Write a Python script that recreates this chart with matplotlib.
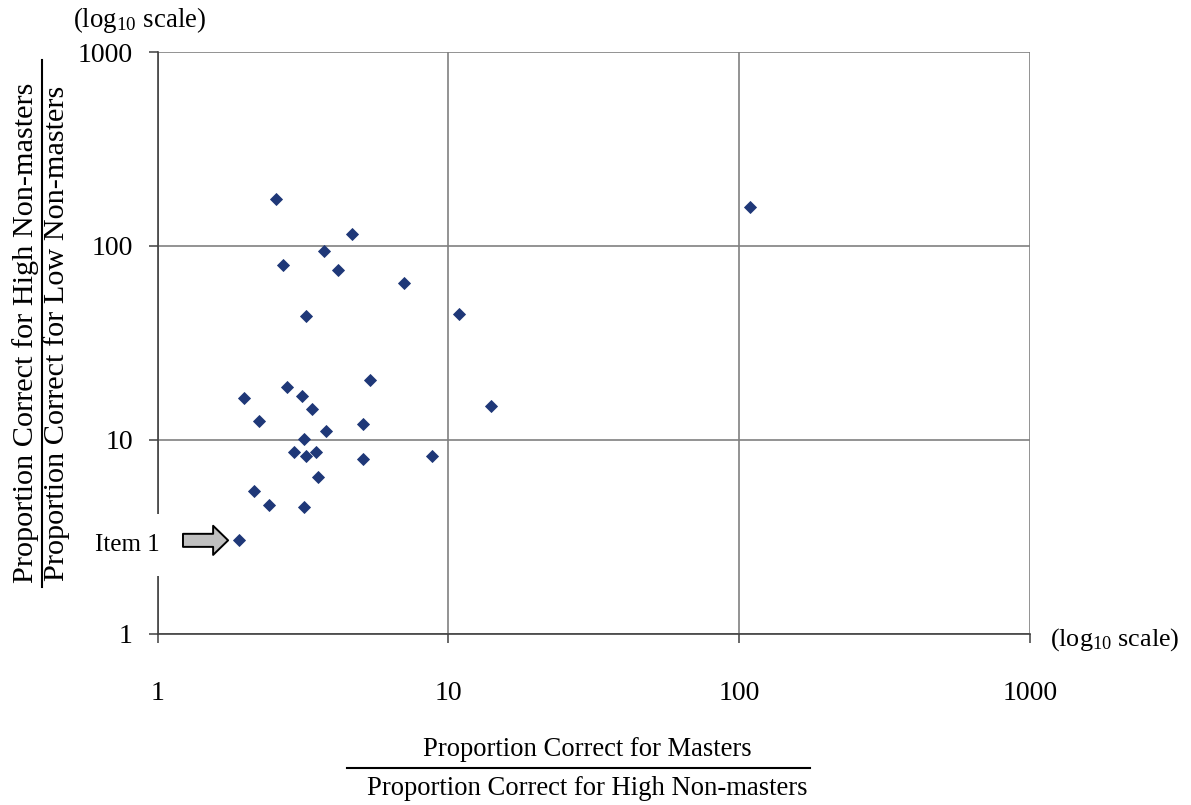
import matplotlib
matplotlib.use('Agg')
from matplotlib import pyplot as plt
from matplotlib.lines import Line2D
import matplotlib.ticker as ticker

plt.rcParams['font.family'] = ['Liberation Serif', 'DejaVu Serif']
plt.rcParams['mathtext.fontset'] = 'custom'
plt.rcParams['mathtext.rm'] = 'Liberation Serif'
plt.rcParams['mathtext.it'] = 'Liberation Serif:italic'

# masters / high non-masters  vs  high non-masters / low non-masters
ratio_masters_high = [2.55, 4.67, 3.75, 2.71, 4.19, 7.04, 3.25, 10.9, 109,
                      5.38, 2.78, 1.99, 3.14, 3.41, 14.0, 2.24, 5.09, 3.80,
                      3.18, 2.95, 3.25, 3.50, 5.09, 8.76, 3.55, 2.14, 2.41,
                      3.18, 1.91]
ratio_high_low = [175.5, 115.8, 93.9, 79.3, 74.7, 64.5, 43.4, 44.3, 159,
                  20.3, 18.8, 16.5, 16.9, 14.5, 14.9, 12.5, 12.0, 11.1,
                  10.1, 8.64, 8.24, 8.64, 7.92, 8.24, 6.42, 5.44, 4.59,
                  4.51, 3.03]
item1 = len(ratio_masters_high) - 1   # the flagged item is the last one

tick_values = [1, 10, 100, 1000]
tick_labels = ['1', '10', '100', '1000']

W, H = 1191, 805
fig = plt.figure(figsize=(W / 100, H / 100), dpi=100)
ax = fig.add_axes([157.5 / W, 1 - 633.7 / H, (1030 - 157.5) / W, (633.7 - 52) / H])

ax.plot(ratio_masters_high, ratio_high_low, linestyle='none', marker='D',
        markersize=6.4, color='#1f3878', markeredgewidth=0.6, zorder=5,
        clip_on=False)

ax.set_xscale('log')
ax.set_yscale('log')
ax.set_xlim(1, 1000)
ax.set_ylim(1, 1000)
ax.xaxis.set_major_locator(ticker.FixedLocator(tick_values))
ax.yaxis.set_major_locator(ticker.FixedLocator(tick_values))
ax.xaxis.set_minor_locator(ticker.NullLocator())
ax.yaxis.set_minor_locator(ticker.NullLocator())
ax.set_xticklabels(tick_labels)
ax.set_yticklabels(tick_labels)
ax.tick_params(axis='both', which='major', direction='out', length=6.8,
               width=1.1, color='#404040', labelsize=20)
ax.tick_params(axis='x', pad=27)
ax.tick_params(axis='y', pad=11)

ax.grid(True, color='#808080', linewidth=1.2)
ax.set_axisbelow(True)
for side in ['top', 'right']:
    ax.spines[side].set_visible(False)
for side in ['left', 'bottom']:
    ax.spines[side].set_color('#404040')
    ax.spines[side].set_linewidth(1.2)

# arrow and label for item 1
ix, iy = ratio_masters_high[item1], ratio_high_low[item1]
ax.annotate('', xy=(ix, iy), xytext=(-40.5, 0), textcoords='offset points',
            arrowprops=dict(arrowstyle='simple,head_length=1.08,head_width=2.1,tail_width=0.94',
                            mutation_scale=10, fc='#c0c0c0', ec='black', lw=1.4,
                            shrinkA=0, shrinkB=8), zorder=6)
ax.annotate('Item 1', xy=(ix, iy), xytext=(-57, -3.5), textcoords='offset points',
            ha='right', va='center', fontsize=18, zorder=7, annotation_clip=False,
            bbox=dict(boxstyle='square,pad=0.8', fc='white', ec='none'))

# axis titles written as fractions
fig.text(140 / W, 1 - 20 / H, r'(log$_{10}$ scale)', ha='center', va='center', fontsize=19.4)
fig.text(1050 / W, 1 - 640 / H, r'(log$_{10}$ scale)', ha='left', va='center', fontsize=18.8)

fig.text(587 / W, 1 - 749 / H, 'Proportion Correct for Masters',
         ha='center', va='center', fontsize=19.2)
fig.text(587 / W, 1 - 788 / H, 'Proportion Correct for High Non-masters',
         ha='center', va='center', fontsize=19.2)
fig.add_artist(Line2D([347 / W, 810 / W], [1 - 767.7 / H, 1 - 767.7 / H],
                      color='black', linewidth=1.5))

fig.text(26 / W, 1 - 333 / H, 'Proportion Correct for High Non-masters',
         ha='center', va='center', rotation=90, fontsize=21.8)
fig.text(57 / W, 1 - 333 / H, 'Proportion Correct for Low Non-masters',
         ha='center', va='center', rotation=90, fontsize=21.8)
fig.add_artist(Line2D([42 / W, 42 / W], [1 - 60 / H, 1 - 587 / H],
                      color='black', linewidth=1.5))

fig.savefig('out.png', dpi=100)
